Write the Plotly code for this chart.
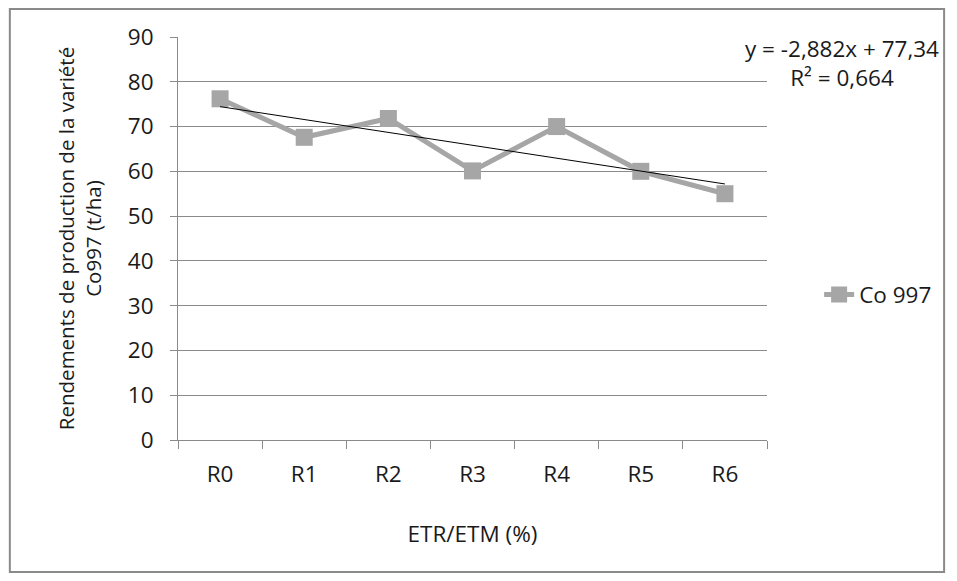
import numpy as np
import plotly.graph_objects as go

categories = ["R0", "R1", "R2", "R3", "R4", "R5", "R6"]
rendements = [76.2, 67.6, 71.8, 60.1, 70.0, 60.0, 55.0]
series_name = "Co 997"
y_ticks = [0, 10, 20, 30, 40, 50, 60, 70, 80, 90]
equation_text = "y = -2,882x + 77,34"
r2_text = "R² = 0,664"

# linear trendline fitted on category index (1..n), as Excel does
xi = np.arange(1, len(rendements) + 1)
slope, intercept = np.polyfit(xi, rendements, 1)
trend = slope * xi + intercept

FONT = "Open Sans, Liberation Sans, sans-serif"
FS = 22.5
FS_YT = 20.5
GRID = "#8a8a8a"
TXT = "#1a1a1a"

fig = go.Figure()
fig.add_trace(go.Scatter(
    x=categories, y=rendements, mode="lines+markers", name=series_name,
    line=dict(color="#a6a6a6", width=5),
    marker=dict(symbol="square", size=17, color="#a6a6a6"),
))
fig.add_trace(go.Scatter(
    x=categories, y=trend, mode="lines", showlegend=False,
    line=dict(color="#000000", width=1), hoverinfo="skip",
))

fig.update_layout(
    width=941, height=565,
    margin=dict(l=170, r=179, t=29, b=133),
    paper_bgcolor="white", plot_bgcolor="white",
    font=dict(family=FONT, size=FS, color=TXT),
    legend=dict(x=1.0885, y=0.36, xanchor="left", yanchor="middle",
                font=dict(size=FS), bgcolor="rgba(0,0,0,0)"),
    xaxis=dict(
        type="category", range=[-0.5, 6.5], showgrid=False,
        showline=True, linecolor=GRID, linewidth=1,
        ticks="outside", tickson="boundaries", ticklen=8, tickcolor=GRID,
        ticklabelstandoff=14,
        title=dict(text="ETR/ETM (%)", font=dict(size=FS), standoff=38),
        tickfont=dict(size=FS),
    ),
    yaxis=dict(
        range=[0, 90], tickvals=y_ticks, showgrid=True, gridcolor=GRID, gridwidth=1,
        zeroline=False, showline=True, linecolor=GRID, linewidth=1,
        ticks="outside", ticklen=7, tickcolor=GRID,
        ticklabelstandoff=12,
        tickfont=dict(size=FS),
        title=dict(text="Rendements de production de la variété<br>Co997 (t/ha)",
                   font=dict(size=FS_YT), standoff=20),
    ),
    shapes=[dict(type="rect", xref="paper", yref="paper",
                 x0=-0.2855, x1=1.3007, y0=-0.3275, y1=1.0695,
                 line=dict(color="#8a8a8a", width=2))],
    annotations=[
        dict(text=equation_text + "<br>" + r2_text,
             xref="paper", yref="paper", x=1.1267, y=0.9367,
             xanchor="center", yanchor="middle", align="center",
             showarrow=False, font=dict(size=FS)),
    ],
)

fig.write_html("out.html")
